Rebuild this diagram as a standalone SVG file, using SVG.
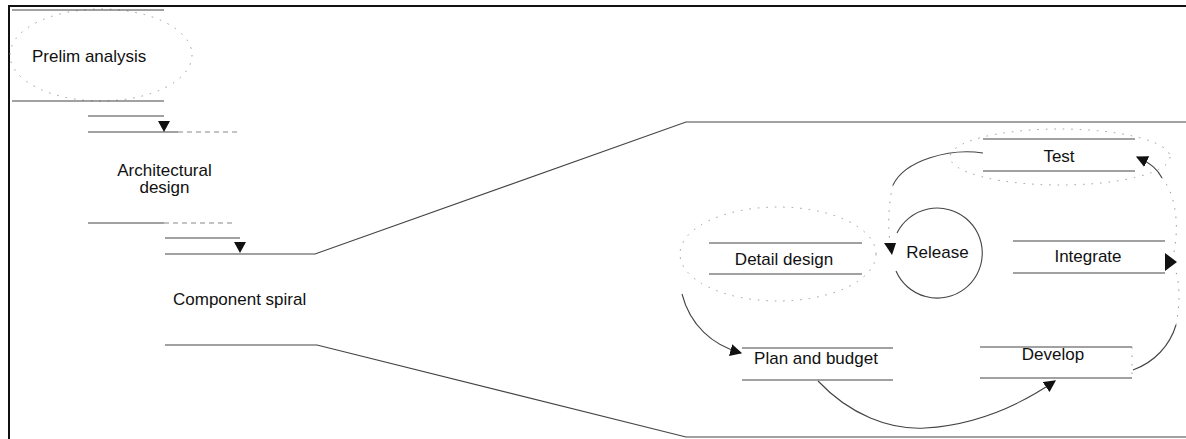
<svg xmlns="http://www.w3.org/2000/svg" width="1186" height="439" viewBox="0 0 1186 439">
  <style>
    .lbl { font-family: "Liberation Sans", Arial, Helvetica, sans-serif; font-size: 17px; fill: #111; }
    .mid { text-anchor: middle; }
    .edge { fill: none; stroke: #444; stroke-width: 1.1; }
    .faint { fill: none; stroke: #999; stroke-width: 1; stroke-dasharray: 1.5 7; }
    .trail { fill: none; stroke: #888; stroke-width: 1; stroke-dasharray: 5 4; }
    .frame { fill: none; stroke: #111; stroke-width: 2; }
    .head { fill: #111; }
  </style>
  <defs>
    <marker id="ah" viewBox="0 0 10 10" refX="9" refY="5" markerWidth="12" markerHeight="12" markerUnits="userSpaceOnUse" orient="auto">
      <path d="M0,0 L10,5 L0,10 z" fill="#111"/>
    </marker>
  </defs>

  <rect width="1186" height="439" fill="#fff"/>

  <!-- outer frame -->
  <g id="frame">
    <line class="frame" x1="9" y1="6" x2="1186" y2="6"/>
    <line class="frame" x1="9" y1="5" x2="9" y2="439"/>
  </g>

  <!-- waterfall stages -->
  <g id="prelim-analysis">
    <ellipse class="faint" cx="101" cy="55" rx="91" ry="46"/>
    <line class="edge" x1="12" y1="10" x2="164" y2="10"/>
    <line class="edge" x1="12" y1="101" x2="164" y2="101"/>
    <text class="lbl" x="32" y="62">Prelim analysis</text>
  </g>

  <g id="architectural-design">
    <line class="edge" x1="88" y1="116" x2="164" y2="116"/>
    <line class="edge" x1="88" y1="132" x2="178" y2="132"/>
    <line class="trail" x1="178" y1="132" x2="240" y2="132"/>
    <line class="edge" x1="88" y1="223" x2="164" y2="223"/>
    <line class="trail" x1="164" y1="223" x2="234" y2="223"/>
    <text class="lbl mid" x="164.5" y="176">Architectural</text>
    <text class="lbl mid" x="164.5" y="193">design</text>
  </g>

  <g id="component-spiral">
    <line class="edge" x1="165" y1="238" x2="240" y2="238"/>
    <path class="edge" d="M165,254 L315,254 L686,122 L1186,122"/>
    <path class="edge" d="M165,345 L317,345 L686,437 L1186,437"/>
    <text class="lbl" x="173" y="305">Component spiral</text>
  </g>

  <!-- spiral tasks -->
  <g id="detail-design">
    <ellipse class="faint" cx="778" cy="254" rx="98" ry="47"/>
    <line class="edge" x1="709" y1="243" x2="862" y2="243"/>
    <line class="edge" x1="709" y1="274" x2="862" y2="274"/>
    <text class="lbl mid" x="784" y="265">Detail design</text>
  </g>

  <g id="release">
    <path class="edge" d="M897,233 A45,45 0 1 1 896,271"/>
    <text class="lbl mid" x="937.5" y="258">Release</text>
  </g>

  <g id="test">
    <ellipse class="faint" cx="1060" cy="157" rx="110" ry="28"/>
    <line class="edge" x1="983" y1="139" x2="1135" y2="139"/>
    <line class="edge" x1="983" y1="171" x2="1135" y2="171"/>
    <text class="lbl mid" x="1059" y="162">Test</text>
  </g>

  <g id="integrate">
    <line class="edge" x1="1013" y1="241" x2="1165" y2="241"/>
    <line class="edge" x1="1013" y1="273" x2="1165" y2="273"/>
    <text class="lbl mid" x="1088" y="262">Integrate</text>
  </g>

  <g id="develop">
    <line class="edge" x1="980" y1="347" x2="1132" y2="347"/>
    <line class="edge" x1="980" y1="378" x2="1132" y2="378"/>
    <line class="faint" x1="1132" y1="347" x2="1132" y2="378"/>
    <text class="lbl mid" x="1053" y="360">Develop</text>
  </g>

  <g id="plan-and-budget">
    <line class="edge" x1="742" y1="348" x2="893" y2="348"/>
    <line class="edge" x1="742" y1="380" x2="893" y2="380"/>
    <text class="lbl mid" x="816" y="364">Plan and budget</text>
  </g>

  <!-- connectors -->
  <g id="connectors">
    <polygon class="head" points="158,121 170,121 164,132"/>
    <polygon class="head" points="234,242 246,242 240,253"/>

    <path class="edge" d="M682,294 C690,325 712,345 741,353" marker-end="url(#ah)"/>
    <path class="edge" d="M818,381 C850,415 890,430 925,428 C975,425 1020,405 1055,381" marker-end="url(#ah)"/>

    <path class="edge" d="M1133,370 C1155,362 1170,345 1176,325"/>
    <path class="faint" d="M1176,325 C1180,305 1180,285 1176,272"/>
    <polygon class="head" points="1165,253 1177,262 1165,271"/>

    <path class="faint" d="M1174,252 C1180,220 1174,192 1162,178"/>
    <path class="edge" d="M1162,178 C1158,170 1152,164 1137,157" marker-end="url(#ah)"/>

    <path class="edge" d="M983,153 C950,148 905,160 893,185"/>
    <path class="faint" d="M893,185 C888,205 888,228 890,242"/>
    <polygon class="head" points="884,243 896,243 892,255"/>
  </g>
</svg>
